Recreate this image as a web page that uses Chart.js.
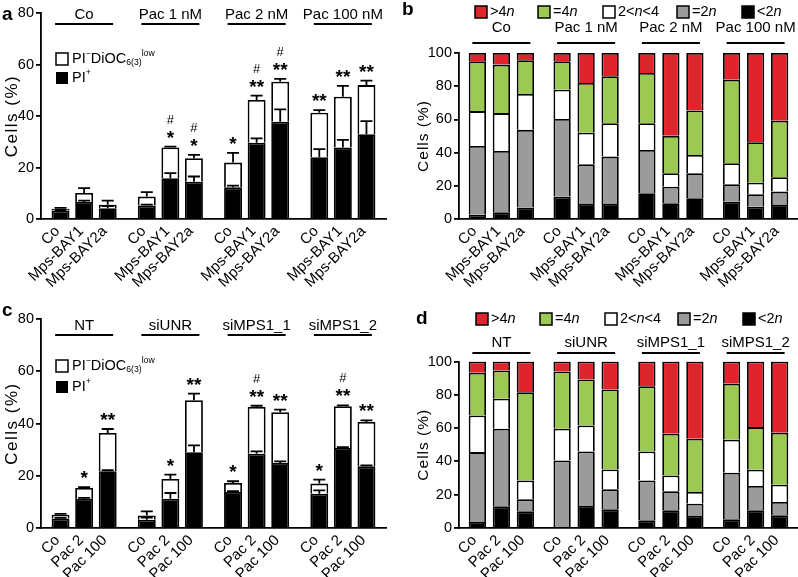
<!DOCTYPE html>
<html>
<head>
<meta charset="utf-8">
<script src="https://cdn.jsdelivr.net/npm/chart.js@4.4.1/dist/chart.umd.min.js"></script>
<style>
html, body { margin: 0; padding: 0; background: #fff; }
#wrap { position: relative; width: 798px; height: 577px; }
canvas { position: absolute; }
</style>
</head>
<body>
<div id="wrap">
  <canvas id="chartA" width="400" height="290" style="left:0;top:0"></canvas>
  <canvas id="chartB" width="398" height="290" style="left:400px;top:0"></canvas>
  <canvas id="chartC" width="400" height="287" style="left:0;top:290px"></canvas>
  <canvas id="chartD" width="398" height="287" style="left:400px;top:290px"></canvas>
</div>
<script>
// ---- panel a: cell death, Mps1 inhibitors +/- paclitaxel (values in % of cells)
const groupsA = ['Co', 'Pac 1 nM', 'Pac 2 nM', 'Pac 100 nM'];
const treatA = ['Co', 'Mps-BAY1', 'Mps-BAY2a'];
const piPosA = [3.2, 6.6, 4.2, 5.2, 15.8, 14.5, 12.3, 29.6, 37.8, 24.0, 27.8, 32.9];
const piPosErrA = [0.3, 0.5, 0.8, 0.4, 2.0, 2.0, 0.7, 1.7, 4.8, 3.1, 2.9, 5.1];
const dioLowA = [0.8, 3.5, 1.3, 3.5, 12.0, 9.1, 9.6, 16.6, 15.5, 17.3, 19.7, 19.1];
const dioLowErrA = [0.3, 1.9, 1.6, 1.7, 0.3, 1.3, 3.8, 1.7, 1.1, 1.0, 4.2, 1.7];
const starsA = ['', '', '', '', '*', '*', '*', '**', '**', '**', '**', '**'];
const hashA = ['', '', '', '', '#', '#', '', '#', '#', '', '', ''];

// ---- panel b: ploidy, same treatments
const below2nB = [2.5, 4, 7, 13.5, 9, 9, 15.5, 9.5, 12.5, 10.5, 7.4, 8.5];
const eq2nB = [41.5, 37, 46.7, 46.7, 24, 28.6, 26.1, 10, 15.1, 10.5, 7.5, 8];
const mid2to4B = [21, 22.8, 21.6, 17.7, 19, 20.1, 16.1, 8.1, 11, 12.6, 7, 8.7];
const eq4nB = [30, 29.2, 20.3, 17.1, 30, 28.3, 30.3, 22.5, 26.8, 50.3, 24.4, 34];
const above4nB = [5, 7, 4.4, 5, 18, 14, 12, 49.9, 34.6, 16.1, 53.7, 40.8];

// ---- panel c: cell death, siRNA +/- paclitaxel
const groupsC = ['NT', 'siUNR', 'siMPS1_1', 'siMPS1_2'];
const treatC = ['Co', 'Pac 2', 'Pac 100'];
const piPosC = [3.6, 11.1, 21.7, 3.2, 11.2, 29.0, 13.8, 28.4, 24.9, 13.1, 30.6, 23.6];
const piPosErrC = [0.3, 0.4, 0.4, 0.8, 2.2, 2.6, 0.3, 0.9, 0.6, 1.3, 0.3, 0.4];
const dioLowC = [1.5, 4.2, 14.7, 1.6, 7.6, 19.9, 3.4, 17.9, 19.4, 3.9, 16.0, 17.0];
const dioLowErrC = [0.3, 0.3, 1.5, 1.6, 1.6, 2.5, 0.7, 0.5, 1.0, 1.5, 0.3, 0.6];
const starsC = ['', '*', '**', '', '*', '**', '*', '**', '**', '*', '**', '**'];
const hashC = ['', '', '', '', '', '', '', '#', '', '', '#', ''];

// ---- panel d: ploidy, siRNA
const below2nD = [3.6, 13, 10, 0.6, 13.2, 11.2, 4.6, 10.6, 7.2, 5.2, 10.6, 7.6];
const eq2nD = [42, 46.6, 7.2, 40, 32.8, 12, 24, 11.4, 7.4, 28, 14.6, 8];
const mid2to4D = [22, 18, 11.4, 19, 15.6, 12, 17.4, 9.6, 7, 19.8, 9.8, 10.4];
const eq4nD = [25.6, 17, 53, 34.4, 27.6, 48, 39.2, 25, 32, 33.6, 25.6, 31.2];
const above4nD = [6.8, 5.4, 18.4, 6, 10.8, 16.8, 14.8, 43.4, 46.4, 13.4, 39.4, 42.8];

const FONT = '"Liberation Sans", Arial, Helvetica, sans-serif';
const RED = '#e0242c', GREEN = '#9cc952', GRAY = '#9b9b9b';
const LW = 1.8;

// values are stored bar by bar (group-major), pull one treatment out
function pick(arr, t) { return [0, 1, 2, 3].map(g => arr[g * 3 + t]); }

function deathSets(pi, piErr, dio, dioErr, stars, hash) {
  const out = [];
  for (let t = 0; t < 3; t++) {
    out.push({ data: pick(pi, t), errs: pick(piErr, t), backgroundColor: '#000', borderColor: '#000', borderWidth: LW, stack: 's' + t });
    out.push({ data: pick(dio, t), errs: pick(dioErr, t), marks: pick(stars, t), hash: pick(hash, t),
      backgroundColor: '#fff', borderColor: '#000', borderWidth: LW, stack: 's' + t });
  }
  return out;
}

function ploidySets(segs) {
  const colors = ['#000', GRAY, '#fff', GREEN, RED];
  const out = [];
  for (let t = 0; t < 3; t++) {
    segs.forEach((s, k) => out.push({ data: pick(s, t), backgroundColor: colors[k], borderColor: '#000', borderWidth: LW, stack: 's' + t }));
  }
  return out;
}

// text with sub/superscripts and italics
function rich(ctx, parts, x, y, size) {
  let cx = x;
  parts.forEach(([t, mode]) => {
    let fs = size, dy = 0, st = '';
    if (mode === 'sup') { fs = size * 0.6; dy = -size * 0.38; }
    if (mode === 'sub') { fs = size * 0.6; dy = size * 0.28; }
    if (mode === 'i') st = 'italic ';
    ctx.font = st + fs + 'px ' + FONT;
    ctx.fillText(t, cx, y + dy);
    cx += ctx.measureText(t).width;
  });
}

function drawDeathLegend(ctx, L) {
  ctx.lineWidth = 1.5;
  ctx.fillStyle = '#fff'; ctx.fillRect(L.legX, L.legY1, 12, 12);
  ctx.strokeRect(L.legX, L.legY1, 12, 12);
  ctx.fillStyle = '#000'; ctx.fillRect(L.legX, L.legY2, 12, 12);
  ctx.textAlign = 'left'; ctx.textBaseline = 'middle';
  rich(ctx, [['PI'], ['\u2212', 'sup'], ['DiOC'], ['6(3)', 'sub'], ['low', 'sup']], L.legX + 16, L.legY1 + 6, 14.5);
  rich(ctx, [['PI'], ['+', 'sup']], L.legX + 16, L.legY2 + 6, 14.5);
}

function drawPloidyLegend(ctx, L) {
  const items = [
    [RED, [['>4'], ['n', 'i']]],
    [GREEN, [['=4'], ['n', 'i']]],
    ['#fff', [['2<'], ['n', 'i'], ['<4']]],
    [GRAY, [['=2'], ['n', 'i']]],
    ['#000', [['<2'], ['n', 'i']]]
  ];
  ctx.lineWidth = 1.5; ctx.textAlign = 'left'; ctx.textBaseline = 'middle';
  items.forEach(([c, parts], k) => {
    const x = L.legXs[k];
    ctx.fillStyle = c; ctx.fillRect(x, L.legY - 6, 12, 12);
    ctx.strokeRect(x, L.legY - 6, 12, 12);
    ctx.fillStyle = '#000';
    rich(ctx, parts, x + 15, L.legY, 14.5);
  });
}

function panelPlugin(p) {
  return {
    id: 'panel_' + p.letter,
    afterDatasetsDraw(chart) {
      const ctx = chart.ctx, xs = chart.scales.x, ys = chart.scales.y, area = chart.chartArea, L = p.layout;
      ctx.save();
      ctx.fillStyle = '#000'; ctx.strokeStyle = '#000';

      // error bars and significance marks
      chart.data.datasets.forEach((ds, di) => {
        if (!ds.errs) return;
        chart.getDatasetMeta(di).data.forEach((bar, i) => {
          const h = ys.getPixelForValue(0) - ys.getPixelForValue(ds.errs[i]);
          const top = bar.y - h;
          ctx.lineWidth = LW;
          ctx.beginPath();
          ctx.moveTo(bar.x, bar.y); ctx.lineTo(bar.x, top);
          ctx.moveTo(bar.x - 6, top); ctx.lineTo(bar.x + 6, top);
          ctx.stroke();
          if (ds.marks) {
            ctx.textAlign = 'center'; ctx.textBaseline = 'alphabetic';
            ctx.font = 'bold 19px ' + FONT;
            ctx.fillText(ds.marks[i], bar.x, top - 3);
            ctx.font = '13px ' + FONT;
            ctx.fillText(ds.hash[i], bar.x, top - 23);
          }
        });
      });

      // rotated bar labels
      ctx.font = '15px ' + FONT;
      ctx.textAlign = 'right'; ctx.textBaseline = 'middle';
      p.treat.forEach((name, t) => {
        chart.getDatasetMeta(t * p.perStack).data.forEach(bar => {
          ctx.save();
          ctx.translate(bar.x + L.labDx, area.bottom + L.labDy);
          ctx.rotate(-Math.PI / 4);
          ctx.fillText(name, 0, 0);
          ctx.restore();
        });
      });

      // group headers with underline
      ctx.font = '15px ' + FONT; ctx.textAlign = 'center'; ctx.textBaseline = 'middle';
      ctx.lineWidth = LW;
      p.groups.forEach((g, i) => {
        const cx = xs.getPixelForValue(i);
        ctx.fillText(g, cx, L.headText);
        ctx.beginPath(); ctx.moveTo(cx - 29, L.headLine); ctx.lineTo(cx + 29, L.headLine); ctx.stroke();
      });

      if (p.kind === 'death') drawDeathLegend(ctx, L); else drawPloidyLegend(ctx, L);

      // y title
      ctx.save();
      ctx.translate(L.titleX, (area.top + area.bottom) / 2);
      ctx.rotate(-Math.PI / 2);
      ctx.font = L.titleSize + 'px ' + FONT;
      ctx.letterSpacing = L.titleSpacing + 'px';
      ctx.textAlign = 'center'; ctx.textBaseline = 'middle';
      ctx.fillText('Cells (%)', 0, 0);
      ctx.restore();

      // panel letter
      ctx.font = 'bold 19px ' + FONT; ctx.textAlign = 'left'; ctx.textBaseline = 'middle';
      ctx.fillText(p.letter, L.letterX, L.letterY);
      ctx.restore();
    }
  };
}

function makePanel(p) {
  const L = p.layout;
  new Chart(document.getElementById(p.id), {
    type: 'bar',
    data: { labels: p.groups, datasets: p.datasets },
    options: {
      responsive: false,
      animation: false,
      layout: { padding: { top: L.top, right: L.right, left: 0, bottom: 0 } },
      plugins: { legend: { display: false }, tooltip: { enabled: false } },
      datasets: { bar: { categoryPercentage: L.catPct, barPercentage: L.barPct } },
      scales: {
        x: {
          stacked: true,
          grid: { display: false },
          border: { color: '#000', width: LW },
          ticks: { display: false },
          afterFit: s => { s.height = L.xHeight; }
        },
        y: {
          stacked: true, min: 0, max: p.ymax,
          ticks: { stepSize: 20, color: '#000', font: { size: 14.5, family: FONT }, padding: 2 },
          grid: { drawOnChartArea: false, color: '#000', lineWidth: LW, tickLength: 5 },
          border: { color: '#000', width: LW },
          afterFit: s => { s.width = L.yWidth; }
        }
      }
    },
    plugins: [panelPlugin(p)]
  });
}

makePanel({
  id: 'chartA', letter: 'a', kind: 'death', groups: groupsA, treat: treatA, perStack: 2, ymax: 80,
  datasets: deathSets(piPosA, piPosErrA, dioLowA, dioLowErrA, starsA, hashA),
  layout: { top: 13, right: 14, yWidth: 41, xHeight: 71, catPct: 0.82, barPct: 0.76,
    labDx: -3, labDy: 10, headText: 15, headLine: 24, legX: 56, legY1: 53, legY2: 72,
    titleX: 12, titleSize: 17, titleSpacing: 1.5, letterX: 2, letterY: 15 }
});

makePanel({
  id: 'chartB', letter: 'b', kind: 'ploidy', groups: groupsA, treat: treatA, perStack: 5, ymax: 100,
  datasets: ploidySets([below2nB, eq2nB, mid2to4B, eq4nB, above4nB]),
  layout: { top: 53, right: 0, yWidth: 59, xHeight: 71, catPct: 0.85, barPct: 0.72,
    labDx: -3, labDy: 10, headText: 28, headLine: 43, legY: 12, legXs: [75, 138, 203, 277, 342],
    titleX: 24, titleSize: 15.5, titleSpacing: 1, letterX: 2, letterY: 10 }
});

makePanel({
  id: 'chartC', letter: 'c', kind: 'death', groups: groupsC, treat: treatC, perStack: 2, ymax: 80,
  datasets: deathSets(piPosC, piPosErrC, dioLowC, dioLowErrC, starsC, hashC),
  layout: { top: 29, right: 14, yWidth: 41, xHeight: 49, catPct: 0.82, barPct: 0.76,
    labDx: -3, labDy: 10, headText: 36, headLine: 45, legX: 56, legY1: 70, legY2: 91,
    titleX: 12, titleSize: 17, titleSpacing: 1.5, letterX: 2, letterY: 21 }
});

makePanel({
  id: 'chartD', letter: 'd', kind: 'ploidy', groups: groupsC, treat: treatC, perStack: 5, ymax: 100,
  datasets: ploidySets([below2nD, eq2nD, mid2to4D, eq4nD, above4nD]),
  layout: { top: 71.5, right: 0, yWidth: 59, xHeight: 49, catPct: 0.85, barPct: 0.72,
    labDx: -3, labDy: 10, headText: 53, headLine: 63, legY: 29, legXs: [76, 140, 205, 278, 343],
    titleX: 24, titleSize: 15.5, titleSpacing: 1, letterX: 16, letterY: 29 }
});
</script>
</body>
</html>
